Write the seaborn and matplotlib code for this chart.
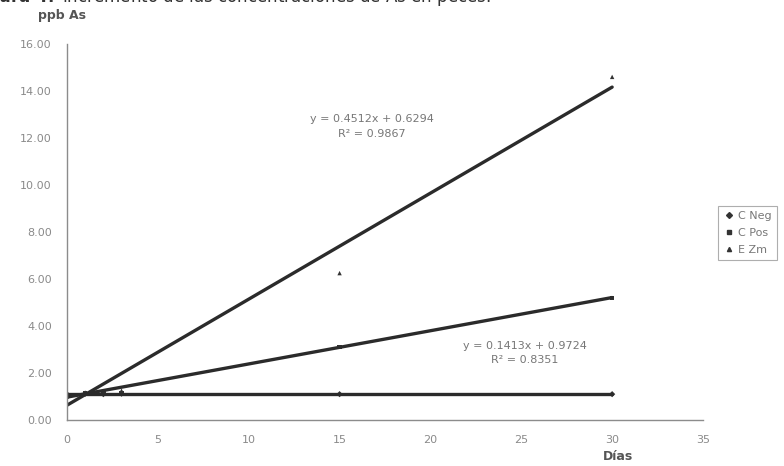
import matplotlib
matplotlib.use("Agg")
import matplotlib.pyplot as plt
import seaborn as sns
import pandas as pd
from matplotlib.lines import Line2D

# ---- data ----
series_names = ["C Neg", "C Pos", "E Zm"]
days = [0, 1, 2, 3, 15, 30]
c_neg = [1.10, 1.12, 1.10, 1.12, 1.10, 1.10]
c_pos = [1.05, 1.15, 1.20, 1.15, 3.10, 5.20]
e_zm = [1.00, 1.15, 1.20, 1.25, 6.25, 14.60]

# trend lines (slope, intercept) as labelled on the chart
trend_slope = [0.0, 0.1413, 0.4512]
trend_intercept = [1.10, 0.9724, 0.6294]
trend_x = [0, 30]
eq_texts = ["", "y = 0.1413x + 0.9724\nR² = 0.8351", "y = 0.4512x + 0.6294\nR² = 0.9867"]

x_ticks = [0, 5, 10, 15, 20, 25, 30, 35]
y_ticks = [0, 2, 4, 6, 8, 10, 12, 14, 16]

sns.set_style("white")
plt.rcParams["font.family"] = ["DejaVu Sans"]

fig = plt.figure(figsize=(7.84, 4.66), dpi=100)
ax = fig.add_axes([67 / 784, 46 / 466, 636 / 784, 376 / 466])

line_color = "#2b2b2b"
rows = []
for name, vals in zip(series_names, [c_neg, c_pos, e_zm]):
    for d, v in zip(days, vals):
        rows.append({"Días": d, "ppb": v, "serie": name})
pts = pd.DataFrame(rows)

trows = []
for name, m, b in zip(series_names, trend_slope, trend_intercept):
    for xx in trend_x:
        trows.append({"Días": xx, "ppb": m * xx + b, "serie": name})
tdf = pd.DataFrame(trows)

sns.lineplot(data=tdf, x="Días", y="ppb", units="serie", estimator=None,
             color=line_color, lw=2.4, ax=ax, legend=False)
sns.scatterplot(data=pts, x="Días", y="ppb", hue="serie",
                palette=["#333333", "#333333", "#333333"],
                style="serie", markers=["D", "s", "^"], s=10,
                edgecolor="none", ax=ax, legend=False)

ax.set_xlim(0, 35)
ax.set_ylim(0, 16)
ax.set_xticks(x_ticks)
ax.set_yticks(y_ticks)
ax.set_xticklabels([str(t) for t in x_ticks], color="#8a8a8a", fontsize=8)
ax.set_yticklabels([f"{t:.2f}" for t in y_ticks], color="#8a8a8a", fontsize=8)
ax.set_xlabel("")
ax.set_ylabel("")
for s in ["top", "right"]:
    ax.spines[s].set_visible(False)
for s in ["left", "bottom"]:
    ax.spines[s].set_color("#8c8c8c")
    ax.spines[s].set_linewidth(1.0)
ax.tick_params(axis="both", direction="out", length=3, width=0.8,
               color="#8c8c8c", pad=8)

# equations
ax.text(16.8, 12.5, eq_texts[2], ha="center", va="center",
        fontsize=8, color="#777777", linespacing=1.6)
ax.text(25.2, 2.85, eq_texts[1], ha="center", va="center",
        fontsize=8, color="#777777", linespacing=1.6)

# legend
handles = [Line2D([], [], ls="none", marker=m, ms=3, color="#333333")
           for m in ["D", "s", "^"]]
leg = fig.legend(handles, series_names, loc="center left",
                 bbox_to_anchor=(712 / 784, 1 - 233 / 466),
                 fontsize=8, frameon=True, handletextpad=0.3,
                 borderpad=0.5, labelspacing=0.6, handlelength=1.0)
leg.get_frame().set_edgecolor("#9a9a9a")
leg.get_frame().set_linewidth(0.8)
leg.get_frame().set_boxstyle("square", pad=0)
for t in leg.get_texts():
    t.set_color("#777777")

# labels
fig.text(38 / 784, 1 - 16 / 466, "ppb As", fontsize=9, fontweight="bold",
         color="#555555", ha="left", va="center")
fig.text(618 / 784, 1 - 457 / 466, "Días", fontsize=9, fontweight="bold",
         color="#555555", ha="center", va="center")

# caption at top (clipped as in the scan)
fig.text(-30 / 784, 1 + 3 / 466,
         r"$\bf{Figura\ 4.}$ Incremento de las concentraciones de As en peces.",
         fontsize=12, color="#333333", ha="left", va="center")

fig.savefig("out.png", dpi=100, facecolor="white")
